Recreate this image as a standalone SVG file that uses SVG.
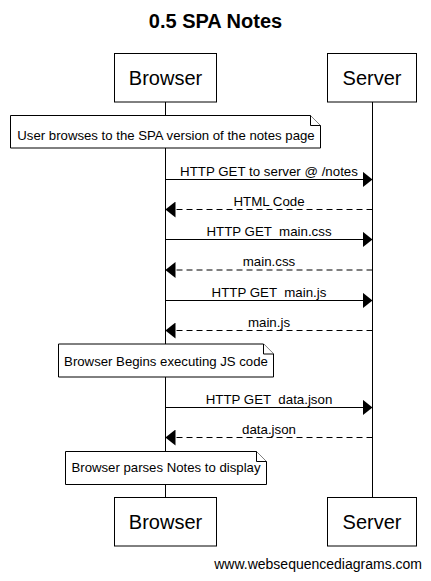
<svg xmlns="http://www.w3.org/2000/svg" width="431" height="581" viewBox="0 0 431 581">
<style>
text{font-family:"Liberation Sans",Arial,sans-serif;fill:#000;white-space:pre}
.title{font-size:20px;font-weight:bold;text-anchor:middle}
.part{font-size:20px;text-anchor:middle}
.box{fill:#fff;stroke:#000;stroke-width:1}
.life{stroke:#000;stroke-width:1}
.msg{stroke:#000;stroke-width:1;fill:none}
.ret{stroke-dasharray:6,4}
.lbl{font-size:13.3px;text-anchor:middle}
.note{fill:#fff;stroke:#000;stroke-width:1}
.ntext{font-size:13.2px;text-anchor:middle}
.wm{font-size:14px;text-anchor:end}
</style>
<defs>
<marker id="ah" markerWidth="10" markerHeight="16" refX="10" refY="8" orient="auto" markerUnits="userSpaceOnUse">
<path d="M0,0 L10,8 L0,16 Z" fill="#000"/>
</marker>
</defs>
<text class="title" x="215.5" y="28">0.5 SPA Notes</text>
<g id="lifelines">
<line class="life" x1="165.5" y1="102" x2="165.5" y2="497"/>
<line class="life" x1="372.5" y1="102" x2="372.5" y2="497"/>
</g>
<g id="browser-top"><rect class="box" x="114.5" y="53.5" width="102" height="48.5"/><text class="part" x="165.5" y="85">Browser</text></g>
<g id="server-top"><rect class="box" x="327.5" y="53.5" width="89" height="48.5"/><text class="part" x="372" y="85">Server</text></g>
<g id="connectors">
<line class="msg" x1="165.5" y1="179.5" x2="372.5" y2="179.5" marker-end="url(#ah)"/>
<text class="lbl" x="269" y="175.5">HTTP GET to server @ /notes</text>
<line class="msg ret" x1="372.5" y1="209.5" x2="165.5" y2="209.5" marker-end="url(#ah)"/>
<text class="lbl" x="269" y="205.5">HTML Code</text>
<line class="msg" x1="165.5" y1="239.5" x2="372.5" y2="239.5" marker-end="url(#ah)"/>
<text class="lbl" x="269" y="235.5" xml:space="preserve">HTTP GET  main.css</text>
<line class="msg ret" x1="372.5" y1="270" x2="165.5" y2="270" marker-end="url(#ah)"/>
<text class="lbl" x="269" y="266">main.css</text>
<line class="msg" x1="165.5" y1="300.5" x2="372.5" y2="300.5" marker-end="url(#ah)"/>
<text class="lbl" x="269" y="296.5" xml:space="preserve">HTTP GET  main.js</text>
<line class="msg ret" x1="372.5" y1="330.5" x2="165.5" y2="330.5" marker-end="url(#ah)"/>
<text class="lbl" x="269" y="326.5">main.js</text>
<line class="msg" x1="165.5" y1="407.5" x2="372.5" y2="407.5" marker-end="url(#ah)"/>
<text class="lbl" x="269" y="403.5" xml:space="preserve">HTTP GET  data.json</text>
<line class="msg ret" x1="372.5" y1="437.5" x2="165.5" y2="437.5" marker-end="url(#ah)"/>
<text class="lbl" x="269" y="433.5">data.json</text>
</g>
<g id="note1"><path class="note" d="M10.5,115.5 H310.5 L320.5,125.5 V148 H10.5 Z"/><path class="note" d="M310.5,115.5 V125.5 H320.5" fill="none"/><text class="ntext" x="166" y="139.5">User browses to the SPA version of the notes page</text></g>
<g id="note2"><path class="note" d="M58.5,344 H263.5 L273.5,354 V377 H58.5 Z"/><path class="note" d="M263.5,344 V354 H273.5" fill="none"/><text class="ntext" x="166" y="365.5">Browser Begins executing JS code</text></g>
<g id="note3"><path class="note" d="M65.5,451.5 H256.5 L266.5,461.5 V484.5 H65.5 Z"/><path class="note" d="M256.5,451.5 V461.5 H266.5" fill="none"/><text class="ntext" x="166" y="472">Browser parses Notes to display</text></g>
<g id="browser-bottom"><rect class="box" x="114.5" y="497.5" width="102" height="48.5"/><text class="part" x="165.5" y="529">Browser</text></g>
<g id="server-bottom"><rect class="box" x="327.5" y="497.5" width="89" height="48.5"/><text class="part" x="372" y="529">Server</text></g>
<text class="wm" x="422" y="569">www.websequencediagrams.com</text>
</svg>
